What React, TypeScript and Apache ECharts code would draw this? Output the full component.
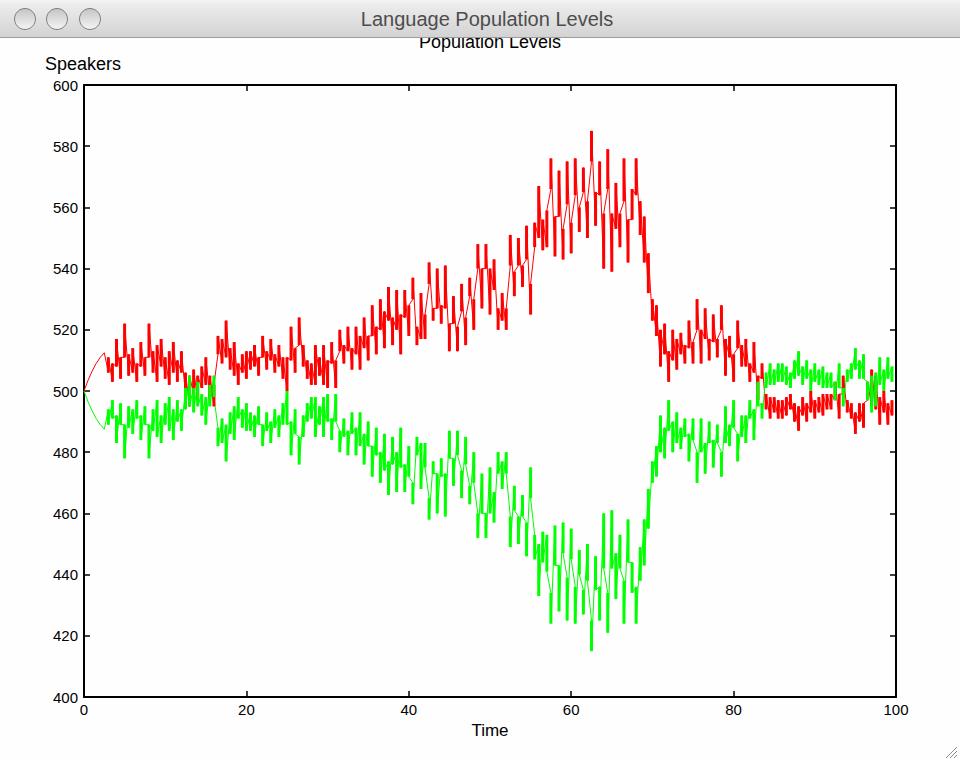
import React, { useEffect, useRef } from 'react';
import * as echarts from 'echarts';

// Smooth opening segment, sampled every 0.5 time units from t = 0
const startStep = 0.5;
const redStart = [500, 503.5, 506.5, 509, 511, 512.5];
const greenStart = [500, 496.5, 493.5, 491, 489, 487.5];

// Oscillating part: one vertical stroke [low, high] every 0.5 time units from t = 3
const barStart = 3;
const barStep = 0.5;

const redBars: [number, number][] = [
  [506, 511], [503, 509], [508, 517], [504, 511], [511, 522], [505, 512], [506, 514], [503, 509], [508, 516], [505, 511],
  [511, 522], [506, 513], [503, 515], [508, 517], [504, 511], [502, 513], [506, 516], [503, 510], [506, 513], [499, 506],
  [495, 505], [499, 507], [497, 505], [501, 508], [502, 511], [498, 505], [495, 502], [512, 518], [509, 517], [511, 523],
  [507, 514], [505, 516], [502, 509], [506, 512], [504, 513], [507, 513], [508, 515], [505, 511], [511, 518], [507, 513],
  [510, 517], [506, 512], [508, 515], [504, 511], [500, 511], [510, 521], [506, 514], [515, 524], [508, 515], [504, 510],
  [502, 509], [502, 515], [505, 511], [502, 515], [501, 510], [509, 516], [501, 510], [513, 520], [509, 515], [513, 521],
  [507, 514], [512, 521], [507, 518], [514, 524], [510, 518], [518, 528], [512, 521], [520, 530], [514, 526], [523, 534],
  [515, 524], [520, 533], [512, 525], [524, 533], [518, 528], [530, 537], [515, 521], [517, 532], [517, 525], [535, 542],
  [523, 527], [527, 540], [522, 528], [527, 541], [513, 522], [522, 531], [513, 521], [526, 535], [515, 524], [531, 537],
  [520, 530], [540, 548], [527, 540], [540, 548], [525, 540], [533, 543], [520, 527], [523, 532], [520, 527], [541, 551],
  [531, 539], [541, 550], [534, 541], [543, 554], [525, 535], [547, 555], [550, 567], [546, 556], [547, 559], [566, 576],
  [544, 557], [557, 572], [543, 553], [561, 575], [545, 555], [564, 576], [552, 560], [565, 573], [550, 562], [575, 585],
  [554, 565], [564, 575], [540, 558], [566, 579], [539, 558], [553, 568], [547, 558], [562, 576], [542, 556], [556, 566],
  [564, 576], [551, 562], [542, 557], [532, 545], [523, 530], [518, 528], [508, 520], [512, 522], [503, 513], [510, 520],
  [507, 517], [512, 519], [509, 515], [514, 523], [509, 516], [520, 530], [509, 520], [517, 527], [510, 517], [516, 525],
  [511, 517], [520, 528], [505, 517], [511, 518], [503, 512], [514, 523], [508, 515], [508, 517], [503, 509], [506, 516],
  [497, 505], [504, 509], [494, 499], [491, 498], [493, 498], [491, 497], [491, 497], [492, 498], [494, 499], [490, 496],
  [487, 495], [492, 498], [490, 496], [493, 500], [491, 497], [493, 498], [492, 499], [494, 499], [494, 499], [497, 503],
  [491, 499], [499, 505], [493, 497], [491, 496], [486, 493], [490, 496], [488, 496], [497, 503], [495, 507], [494, 505],
  [489, 498], [493, 500], [489, 496], [492, 497],
];

const greenBars: [number, number][] = [
  [489, 494], [491, 497], [483, 492], [489, 496], [478, 489], [488, 495], [486, 494], [491, 497], [484, 492], [489, 495],
  [478, 489], [487, 494], [485, 497], [483, 492], [489, 496], [487, 498], [484, 494], [490, 497], [487, 494], [494, 501],
  [495, 505], [493, 501], [495, 503], [492, 499], [489, 498], [495, 502], [498, 505], [482, 488], [483, 491], [477, 489],
  [486, 493], [484, 495], [491, 498], [488, 494], [487, 496], [487, 493], [485, 492], [489, 495], [482, 489], [487, 493],
  [483, 490], [488, 494], [485, 492], [489, 496], [489, 500], [479, 490], [486, 494], [476, 485], [485, 492], [490, 496],
  [491, 498], [485, 498], [489, 495], [485, 498], [490, 499], [484, 491], [490, 499], [480, 487], [485, 491], [479, 487],
  [486, 493], [479, 488], [482, 493], [476, 486], [482, 490], [472, 482], [479, 488], [470, 480], [474, 486], [466, 477],
  [476, 485], [467, 480], [475, 488], [467, 476], [472, 482], [463, 470], [479, 485], [468, 483], [475, 483], [458, 465],
  [473, 477], [460, 473], [472, 478], [459, 473], [478, 487], [469, 478], [479, 487], [465, 474], [476, 485], [463, 469],
  [470, 480], [452, 460], [460, 473], [452, 460], [460, 475], [457, 467], [473, 480], [468, 477], [473, 480], [449, 459],
  [461, 469], [450, 459], [459, 466], [446, 457], [465, 475], [445, 453], [433, 450], [444, 454], [441, 453], [424, 434],
  [443, 456], [428, 443], [447, 457], [425, 439], [445, 455], [424, 436], [440, 448], [427, 435], [438, 450], [415, 425],
  [435, 446], [425, 436], [442, 460], [421, 434], [442, 461], [432, 447], [442, 453], [424, 438], [444, 458], [434, 444],
  [424, 436], [438, 449], [443, 458], [455, 468], [470, 477], [472, 482], [480, 492], [478, 488], [487, 497], [480, 490],
  [483, 493], [481, 488], [485, 491], [477, 486], [484, 491], [470, 480], [480, 491], [473, 483], [483, 490], [475, 484],
  [483, 489], [472, 480], [483, 495], [482, 489], [488, 497], [477, 486], [485, 492], [483, 492], [491, 497], [484, 494],
  [495, 503], [491, 496], [501, 506], [502, 509], [502, 507], [503, 509], [503, 509], [502, 508], [501, 506], [504, 510],
  [505, 513], [502, 508], [504, 510], [500, 507], [503, 509], [502, 507], [501, 508], [501, 506], [501, 506], [497, 503],
  [501, 509], [495, 501], [503, 507], [504, 509], [507, 514], [504, 510], [504, 512], [497, 503], [493, 505], [495, 506],
  [502, 511], [500, 507], [504, 511], [503, 508],
];

const chartTitle = 'Population Levels';
const windowTitle = 'Language Population Levels';
const yName = 'Speakers';
const xName = 'Time';

const FONT = '"Liberation Sans", Arial, Helvetica, sans-serif';

function lineData(start: number[], bars: [number, number][], upward: boolean) {
  const pts: number[][] = start.map((v, i) => [i * startStep, v]);
  bars.forEach(([lo, hi], i) => {
    const t = barStart + i * barStep;
    if (upward) {
      pts.push([t, lo], [t, hi]);
    } else {
      pts.push([t, hi], [t, lo]);
    }
  });
  return pts;
}

function barData(bars: [number, number][]) {
  return bars.map(([lo, hi], i) => [barStart + i * barStep, lo, hi]);
}

function barRender(color: string) {
  return (_params: any, api: any) => {
    const t = api.value(0);
    const lo = api.value(1);
    const hi = api.value(2);
    const a = api.coord([t, lo]);
    const b = api.coord([t, hi]);
    return {
      type: 'rect',
      shape: { x: a[0] - 1.5, y: b[1], width: 3, height: Math.max(1, a[1] - b[1]) },
      style: { fill: color },
    };
  };
}

export default function App() {
  const ref = useRef<HTMLDivElement>(null);

  useEffect(() => {
    if (!ref.current) return;
    const chart = echarts.init(ref.current, undefined, { renderer: 'svg' });

    const axisLine = { show: true, onZero: false, lineStyle: { color: '#000', width: 2 } };
    const axisTick = { show: true, inside: true, length: 6, lineStyle: { color: '#000', width: 1.5 } };

    const option: any = {
      animation: false,
      backgroundColor: '#fefefe',
      grid: { left: 84, right: 64, top: 85, bottom: 64, containLabel: false },
      xAxis: [
        {
          type: 'value', min: 0, max: 100, interval: 20, position: 'bottom',
          name: xName, nameLocation: 'middle', nameGap: 24,
          nameTextStyle: { color: '#000', fontSize: 17, fontFamily: FONT },
          axisLine, axisTick,
          axisLabel: { color: '#000', fontSize: 15, margin: 5, fontFamily: FONT },
          splitLine: { show: false },
        },
        {
          type: 'value', min: 0, max: 100, interval: 20, position: 'top',
          axisLine, axisTick, axisLabel: { show: false }, splitLine: { show: false },
        },
      ],
      yAxis: [
        {
          type: 'value', min: 400, max: 600, interval: 20, position: 'left',
          axisLine, axisTick,
          axisLabel: { color: '#000', fontSize: 15, margin: 6, fontFamily: FONT },
          splitLine: { show: false },
        },
        {
          type: 'value', min: 400, max: 600, interval: 20, position: 'right',
          axisLine, axisTick, axisLabel: { show: false }, splitLine: { show: false },
        },
      ],
      series: [
        {
          type: 'line', data: lineData(redStart, redBars, true), showSymbol: false, color: '#ff0000',
          lineStyle: { color: '#ff0000', width: 1 }, itemStyle: { color: '#ff0000' }, z: 2,
        },
        {
          type: 'line', data: lineData(greenStart, greenBars, false), showSymbol: false, color: '#00ff00',
          lineStyle: { color: '#00ff00', width: 1 }, itemStyle: { color: '#00ff00' }, z: 2,
        },
        {
          type: 'custom', renderItem: barRender('#ff0000'), data: barData(redBars), color: '#ff0000',
          encode: { x: 0, y: [1, 2] }, z: 3,
        },
        {
          type: 'custom', renderItem: barRender('#00ff00'), data: barData(greenBars), color: '#00ff00',
          encode: { x: 0, y: [1, 2] }, z: 4,
        },
      ],
      graphic: [
        {
          type: 'text', x: 490, y: 33, z: 10,
          style: { text: chartTitle, fill: '#000', font: `18px ${FONT}`, align: 'center', verticalAlign: 'top' },
        },
        {
          type: 'text', x: 45, y: 55, z: 10,
          style: { text: yName, fill: '#000', font: `18px ${FONT}`, verticalAlign: 'top' },
        },
        {
          type: 'rect', shape: { x: 0, y: 0, width: 960, height: 38 }, z: 20,
          style: {
            fill: new echarts.graphic.LinearGradient(0, 0, 0, 1, [
              { offset: 0, color: '#f4f4f4' },
              { offset: 0.12, color: '#ececec' },
              { offset: 1, color: '#d2d2d2' },
            ]),
          },
        },
        {
          type: 'line', shape: { x1: 0, y1: 37.5, x2: 960, y2: 37.5 }, z: 21,
          style: { stroke: '#9c9c9c', lineWidth: 1 },
        },
        ...[25, 57, 90].map((cx) => ({
          type: 'circle', shape: { cx, cy: 19, r: 10.5 }, z: 22,
          style: {
            fill: new echarts.graphic.LinearGradient(0, 0, 0, 1, [
              { offset: 0, color: '#c4c4c4' },
              { offset: 1, color: '#f6f6f6' },
            ]),
            stroke: '#7e7e7e', lineWidth: 1,
          },
        })),
        {
          type: 'text', x: 487, y: 19, z: 22,
          style: { text: windowTitle, fill: '#4d4d4d', font: `20px ${FONT}`, align: 'center', verticalAlign: 'middle' },
        },
        {
          type: 'line', shape: { x1: 946, y1: 758, x2: 957, y2: 747 }, z: 22,
          style: { stroke: '#8a8a8a', lineWidth: 1 },
        },
        {
          type: 'line', shape: { x1: 950, y1: 758, x2: 957, y2: 751 }, z: 22,
          style: { stroke: '#8a8a8a', lineWidth: 1 },
        },
        {
          type: 'line', shape: { x1: 954, y1: 758, x2: 957, y2: 755 }, z: 22,
          style: { stroke: '#8a8a8a', lineWidth: 1 },
        },
      ],
    };

    chart.setOption(option);
    return () => chart.dispose();
  }, []);

  return (
    <div
      ref={ref}
      style={{ position: 'absolute', left: 0, top: 0, width: 960, height: 761, background: '#fefefe' }}
    />
  );
}
